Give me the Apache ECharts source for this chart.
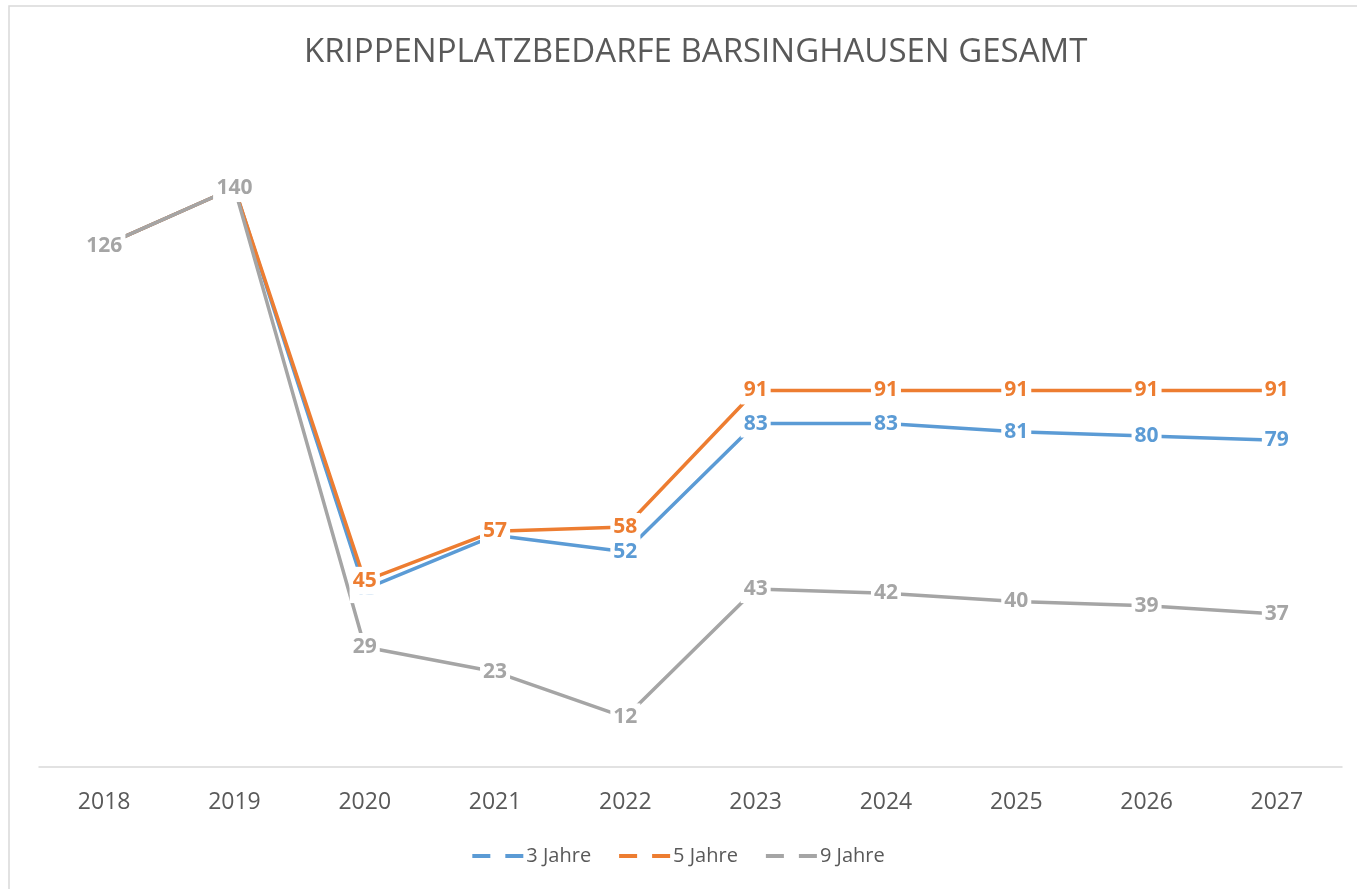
<!DOCTYPE html>
<html>
<head>
<meta charset="utf-8">
<title>Krippenplatzbedarfe Barsinghausen gesamt</title>
<script src="https://cdn.jsdelivr.net/npm/echarts@6/dist/echarts.min.js"></script>
<style>
  html, body { margin: 0; padding: 0; background: #fff; }
  #chart { width: 1357px; height: 889px; }
</style>
</head>
<body>
<div id="chart"></div>
<script>
// Jahre (x-Achse)
const years = ['2018', '2019', '2020', '2021', '2022', '2023', '2024', '2025', '2026', '2027'];
// Bedarfe je Szenario
const jahre3 = [126, 140, 43, 56, 52, 83, 83, 81, 80, 79];
const jahre5 = [126, 140, 45, 57, 58, 91, 91, 91, 91, 91];
const jahre9 = [126, 140, 29, 23, 12, 43, 42, 40, 39, 37];

const FONT = '"Open Sans", "Noto Sans", sans-serif';

// gemeinsame Liniendefinition, Excel-Optik: Wert mittig auf dem Punkt, weisser Hintergrund
const mkSeries = (name, data, color) => ({
  name, type: 'line', data,
  symbol: 'circle', symbolSize: 0, showSymbol: true,
  lineStyle: { color, width: 3.5 },
  itemStyle: { color },
  label: {
    show: true, position: 'inside', color,
    fontFamily: FONT, fontWeight: 'bold', fontSize: 21,
    backgroundColor: '#fff', padding: [4, 3, 3, 3]
  },
  emphasis: { disabled: true }
});

// gestricheltes Legendensymbol (zwei Striche)
const dashIcon = 'path://M0,0h18v4h-18z M33,0h18v4h-18z';

const chart = echarts.init(document.getElementById('chart'));
chart.setOption({
  animation: false,
  title: {
    text: 'KRIPPENPLATZBEDARFE BARSINGHAUSEN GESAMT',
    left: 299, top: 31,
    textStyle: { fontFamily: FONT, fontSize: 33, fontWeight: 'normal', color: '#595959' }
  },
  graphic: [{
    type: 'rect', shape: { x: 9, y: 6, width: 1400, height: 900 },
    style: { fill: 'none', stroke: '#d9d9d9', lineWidth: 1.5 }, silent: true
  }],
  legend: {
    bottom: 18, left: 'center',
    icon: dashIcon, itemWidth: 51, itemHeight: 4, itemGap: 28,
    textStyle: { fontFamily: FONT, fontSize: 20, color: '#595959', padding: [0, 0, 0, -2] },
    data: ['3 Jahre', '5 Jahre', '9 Jahre']
  },
  grid: { left: 39, right: 15, top: 105, height: 662 },
  xAxis: {
    type: 'category', data: years, boundaryGap: true,
    axisLine: { lineStyle: { color: '#d9d9d9', width: 1.5 } },
    axisTick: { show: false },
    axisLabel: { fontFamily: FONT, fontSize: 23, color: '#595959', margin: 24 }
  },
  yAxis: {
    type: 'value', min: 0, max: 160, show: false,
    splitLine: { show: false }
  },
  series: [
    mkSeries('3 Jahre', jahre3, '#5B9BD5'),
    mkSeries('5 Jahre', jahre5, '#ED7D31'),
    mkSeries('9 Jahre', jahre9, '#A5A5A5')
  ]
});
</script>
</body>
</html>
